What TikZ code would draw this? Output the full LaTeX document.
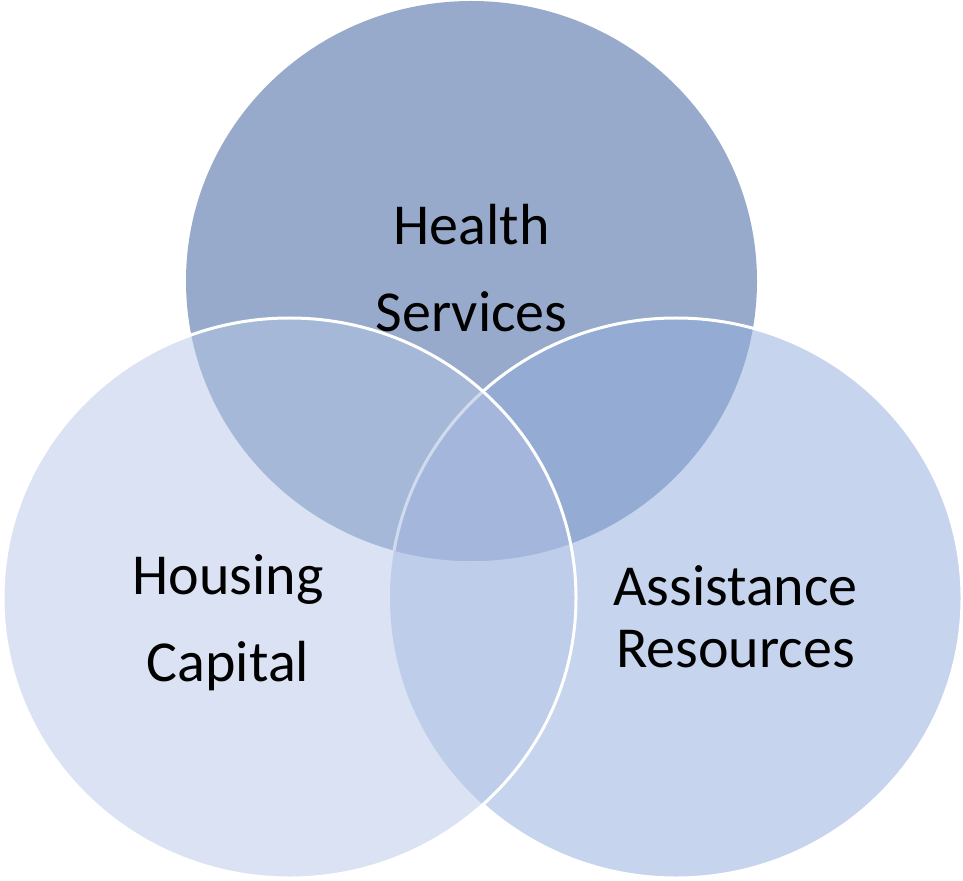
\documentclass[tikz,border=0pt]{standalone}
\usepackage{fontspec}
\setmainfont{Carlito}
\definecolor{cTop}{HTML}{98AACB}
\definecolor{cLeft}{HTML}{DAE2F3}
\definecolor{cRight}{HTML}{C6D4EE}
\definecolor{cTL}{HTML}{A6B8D8}
\definecolor{cTR}{HTML}{94ABD3}
\definecolor{cLR}{HTML}{BECDE9}
\definecolor{cTLR}{HTML}{A4B6DC}
\newcommand{\topdisk}{(9.43,-5.62) ellipse [x radius=5.71cm, y radius=5.6cm]}
\newcommand{\leftdisk}{(5.79,-11.96) ellipse [x radius=5.73cm, y radius=5.6cm]}
\newcommand{\rightdisk}{(13.52,-11.96) ellipse [x radius=5.72cm, y radius=5.6cm]}
\tikzset{
  rim/.style={draw=white, line width=0.06cm},
  label/.style={anchor=base, font=\fontsize{33}{40}\selectfont, text=black, inner sep=0pt}
}
\begin{document}
\begin{tikzpicture}
\useasboundingbox (0,0) rectangle (19.26,-17.62);
% Health Services disk
\fill[cTop] \topdisk;
% Assistance Resources disk, with its overlap on the top disk
\fill[cRight] \rightdisk;
\begin{scope}
  \clip \topdisk;
  \fill[cTR] \rightdisk;
\end{scope}
\draw[rim] \rightdisk;
% Housing Capital disk and its overlaps
\fill[cLeft] \leftdisk;
\begin{scope}
  \clip \leftdisk;
  \fill[cLR] \rightdisk;
  \begin{scope}
    \clip \topdisk;
    \fill[cTL] \leftdisk;
    \fill[cTLR] \rightdisk;
    \draw[rim, draw opacity=0.5] \rightdisk;
  \end{scope}
\end{scope}
\draw[rim] \leftdisk;
% labels
\node[label] (health) at (9.43,-4.9) {Health};
\node[label] (services) at (9.43,-6.64) {Services};
\node[label] (housing) at (4.56,-11.88) {Housing};
\node[label] (capital) at (4.56,-13.62) {Capital};
\node[label] (assistance) at (14.71,-12.1) {Assistance};
\node[label] (resources) at (14.71,-13.34) {Resources};
\end{tikzpicture}
\end{document}
